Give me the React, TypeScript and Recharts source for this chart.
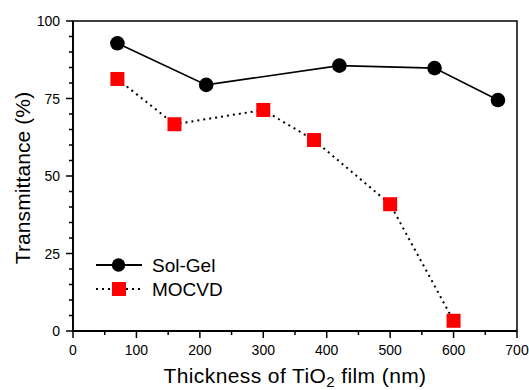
import React from 'react';
import { LineChart, Line, XAxis, YAxis, ReferenceArea } from 'recharts';

const solGelThickness = [70, 210, 420, 570, 670];
const solGelTransmittance = [92.8, 79.4, 85.6, 84.8, 74.5];
const mocvdThickness = [70, 160, 300, 380, 500, 600];
const mocvdTransmittance = [81.3, 66.7, 71.3, 61.6, 40.9, 3.3];
const xTicks = [0, 50, 100, 150, 200, 250, 300, 350, 400, 450, 500, 550, 600, 650, 700];
const xLabelTicks = [0, 100, 200, 300, 400, 500, 600, 700];
const yTicks = [0, 5, 10, 15, 20, 25, 30, 35, 40, 45, 50, 55, 60, 65, 70, 75, 80, 85, 90, 95, 100];
const yLabelTicks = [0, 25, 50, 75, 100];
const seriesNames = ['Sol-Gel', 'MOCVD'];

const solGel = solGelThickness.map((x, i) => ({ x, t: solGelTransmittance[i] }));
const mocvd = mocvdThickness.map((x, i) => ({ x, t: mocvdTransmittance[i] }));

const FONT = 'Liberation Sans, Arial, sans-serif';

const XTick = (props: any) => {
  const { x, y, payload } = props;
  const major = xLabelTicks.includes(payload.value);
  return (
    <g>
      <line x1={x} x2={x} y1={y} y2={y + (major ? 7 : 4)} stroke="#000" strokeWidth={1.5} />
      {major && (
        <text x={x} y={y + 24} textAnchor="middle" fontSize={14} fontFamily={FONT} fill="#000">
          {payload.value}
        </text>
      )}
    </g>
  );
};

const YTick = (props: any) => {
  const { x, y, payload } = props;
  const major = yLabelTicks.includes(payload.value);
  return (
    <g>
      <line x1={x} x2={x - (major ? 7 : 4)} y1={y} y2={y} stroke="#000" strokeWidth={1.5} />
      {major && (
        <text x={x - 13} y={y + 5} textAnchor="end" fontSize={14} fontFamily={FONT} fill="#000">
          {payload.value}
        </text>
      )}
    </g>
  );
};

const Square = (props: any) => {
  const { cx, cy } = props;
  if (cx == null || cy == null) return null;
  return <rect x={cx - 7} y={cy - 7} width={14} height={14} fill="#ff0000" />;
};

const Circ = (props: any) => {
  const { cx, cy } = props;
  if (cx == null || cy == null) return null;
  return <circle cx={cx} cy={cy} r={7.3} fill="#000" />;
};

const LegendBox = () => (
  <svg width={160} height={50} style={{ display: 'block' }}>
    <line x1={0} x2={46} y1={12} y2={12} stroke="#000" strokeWidth={1.8} />
    <circle cx={22.5} cy={12} r={6.7} fill="#000" />
    <text x={56} y={19} fontSize={19} fontFamily={FONT} fill="#000">{seriesNames[0]}</text>
    <line x1={0} x2={46} y1={36} y2={36} stroke="#000" strokeWidth={2} strokeDasharray="2 4" />
    <rect x={16} y={29} width={14} height={14} fill="#ff0000" />
    <text x={56} y={43} fontSize={19} fontFamily={FONT} fill="#000">{seriesNames[1]}</text>
  </svg>
);

const XTitle = () => (
  <text x={295} y={383} textAnchor="middle" fontSize={21} letterSpacing={0.4} fontFamily={FONT} fill="#000">
    Thickness of TiO
    <tspan fontSize={15} dy={4}>2</tspan>
    <tspan dy={-4}> film (nm)</tspan>
  </text>
);

const YTitle = () => (
  <text
    x={0}
    y={0}
    transform="translate(30,178) rotate(-90)"
    textAnchor="middle"
    fontSize={21}
    letterSpacing={0.1}
    fontFamily={FONT}
    fill="#000"
  >
    Transmittance (%)
  </text>
);

export default function App() {
  return (
    <div style={{ position: 'absolute', left: 0, top: 0, width: 529, height: 390, background: '#fff' }}>
      <LineChart width={529} height={390} margin={{ top: 21, right: 12, left: 0, bottom: 0 }}>
        <XAxis
          type="number"
          dataKey="x"
          domain={[0, 700]}
          ticks={xTicks}
          interval={0}
          height={59}
          tickSize={0}
          tickMargin={0}
          tickLine={false}
          axisLine={{ stroke: '#000', strokeWidth: 1.8 }}
          tick={<XTick />}
          label={<XTitle />}
        />
        <YAxis
          type="number"
          dataKey="t"
          domain={[0, 100]}
          ticks={yTicks}
          interval={0}
          width={73}
          tickSize={0}
          tickMargin={0}
          tickLine={false}
          axisLine={{ stroke: '#000', strokeWidth: 1.8 }}
          tick={<YTick />}
          label={<YTitle />}
        />
        <ReferenceArea x1={0} x2={700} y1={0} y2={100} fill="none" fillOpacity={0} stroke="#000" strokeWidth={1.5} ifOverflow="visible" />
        <Line
          data={mocvd}
          dataKey="t"
          name={seriesNames[1]}
          stroke="#000"
          strokeWidth={2}
          strokeDasharray="2 4"
          dot={<Square />}
          isAnimationActive={false}
        />
        <Line
          data={solGel}
          dataKey="t"
          name={seriesNames[0]}
          stroke="#000"
          strokeWidth={1.6}
          dot={<Circ />}
          isAnimationActive={false}
        />
      </LineChart>
      <div style={{ position: 'absolute', left: 96, top: 253 }}>
        <LegendBox />
      </div>
    </div>
  );
}
